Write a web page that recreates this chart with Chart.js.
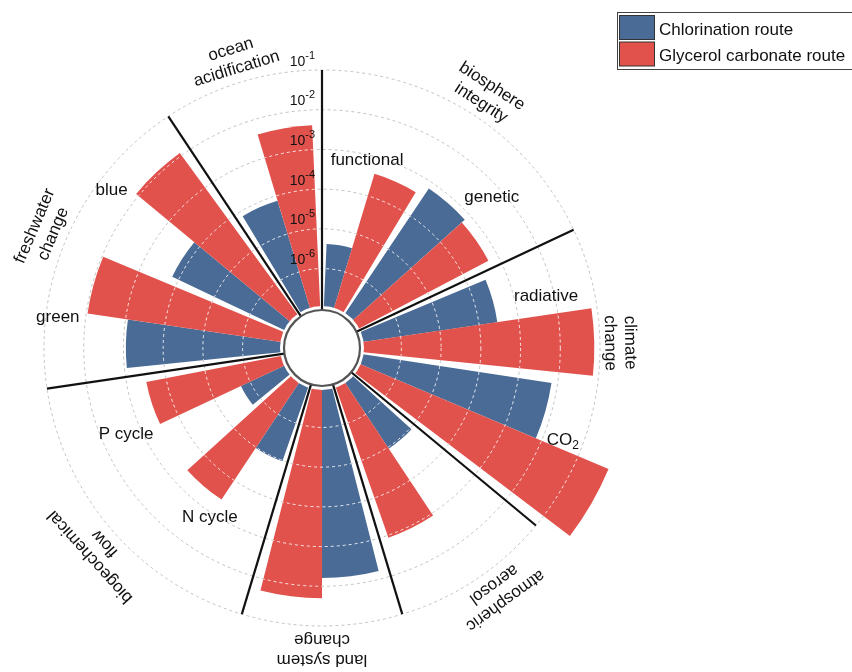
<!DOCTYPE html>
<html>
<head>
<meta charset="utf-8">
<script src="https://cdn.jsdelivr.net/npm/chart.js@4.4.1/dist/chart.umd.min.js"></script>
<style>
  html, body { margin: 0; padding: 0; background: #ffffff; }
  #wrap { width: 852px; height: 672px; position: relative; overflow: hidden; }
</style>
</head>
<body>
<div id="wrap"><canvas id="c" width="852" height="672"></canvas></div>
<script>
// Planetary-boundary impacts of two production routes, radial log scale.

// Boundary categories, clockwise from 12 o'clock (two-line captions)
const categoryNames = [
  ['biosphere', 'integrity'],
  ['climate', 'change'],
  ['atmospheric', 'aerosol'],
  ['land system', 'change'],
  ['biogeochemical', 'flow'],
  ['freshwater', 'change'],
  ['ocean', 'acidification']
];

// Control variables and the category each one belongs to
const subcategories = ['functional', 'genetic', 'radiative', 'CO_2', 'atmospheric aerosol',
  'land system change', 'N cycle', 'P cycle', 'green', 'blue', 'ocean acidification'];
const subcategoryGroup = [0, 0, 1, 1, 2, 3, 4, 4, 5, 5, 6];
// Which control variables get their own caption on the chart
const subcategoryCaptioned = [true, true, true, true, false, false, true, true, true, true, false];

// Impact values per control variable
const seriesNames = ['Chlorination route', 'Glycerol carbonate route'];
const chlorination = [4.2e-6, 6.8e-4, 2.9e-4, 7.0e-3, 1.1e-5, 6.2e-3, 1.05e-5, 1.8e-6, 8.7e-4, 1.5e-4, 7.5e-5];
const glycerolCarbonate = [3.8e-4, 5.4e-4, 7.2e-2, 6.8e-1, 1.15e-3, 2.0e-2, 3.8e-4, 3.2e-4, 9.3e-3, 1.2e-2, 4.1e-3];

// Radial axis: decades shown, and the labelled ones
const axisMinExp = -8;
const axisMaxExp = -1;
const tickExponents = [-1, -2, -3, -4, -5, -6];

// ---------- styling / layout ----------
const FONT = '"Liberation Sans", Arial, Helvetica, sans-serif';
const COLORS = ['#4a6b95', '#e1524c'];
const BAR_DEG = 14.25;   // angular width of one bar
const GAP_IN = 2.8;      // gap between control variables of one category
const GAP_SEP = 5.04;    // gap around a category divider

// caption placement: [angle clockwise from top (deg), radius (px)]
const subCaptionPlace = [[13.5, 193], [48.4, 227], [77, 230], [111, 258], null, null,
  [213.5, 203], [246.3, 214], [276.7, 266], [306.9, 263], null];
const categoryCaptionPlace = [[33, 302], [89, 298], [144, 302], [180, 302], [228, 302], [293, 302], [343, 302]];
const CAPTION_LINE_GAP = 20;

// Build the sequence of slices (bars and spacers) around the circle
const slices = [];
const groupStartIdx = [];
categoryNames.forEach((_, g) => {
  groupStartIdx.push(slices.length);
  slices.push({ kind: 'gap', deg: GAP_SEP / 2 });
  let first = true;
  subcategories.forEach((name, k) => {
    if (subcategoryGroup[k] !== g) return;
    if (!first) slices.push({ kind: 'gap', deg: GAP_IN });
    first = false;
    slices.push({ kind: 'bar', series: 0, value: chlorination[k], deg: BAR_DEG, name });
    slices.push({ kind: 'bar', series: 1, value: glycerolCarbonate[k], deg: BAR_DEG, name });
  });
  slices.push({ kind: 'gap', deg: GAP_SEP / 2 });
});

const chartLabels = slices.map(s => s.kind === 'bar' ? s.name + ' – ' + seriesNames[s.series] : '');
const chartValues = slices.map(s => s.kind === 'bar' ? Math.log10(s.value) : axisMinExp);

// text with sub/superscript pieces: parts = [[text, size, dy], ...]
function richText(ctx, parts, x, y, align) {
  let w = 0;
  parts.forEach(p => { ctx.font = p[1] + 'px ' + FONT; w += ctx.measureText(p[0]).width; });
  let cx = align === 'right' ? x - w : (align === 'center' ? x - w / 2 : x);
  ctx.textAlign = 'left';
  parts.forEach(p => {
    ctx.font = p[1] + 'px ' + FONT;
    ctx.fillText(p[0], cx, y + (p[2] || 0));
    cx += ctx.measureText(p[0]).width;
  });
}

function captionParts(text, size) {
  const i = text.indexOf('_');
  if (i < 0) return [[text, size, 0]];
  return [[text.slice(0, i), size, 0], [text.slice(i + 1), Math.round(size * 0.72), 5]];
}

const decorations = {
  id: 'decorations',
  afterDatasetsDraw(chart) {
    const ctx = chart.ctx;
    const scale = chart.scales.r;
    const meta = chart.getDatasetMeta(0);
    const cx = scale.xCenter, cy = scale.yCenter;
    const ringRadii = scale.ticks
      .map(t => scale.getDistanceFromCenterForValue(t.value))
      .filter(r => r > 1);

    // light dashed rings continued across the bars
    meta.data.forEach((arc, i) => {
      if (slices[i].kind !== 'bar') return;
      const p = arc.getProps(['x', 'y', 'startAngle', 'endAngle', 'outerRadius'], true);
      ctx.save();
      ctx.beginPath();
      ctx.moveTo(p.x, p.y);
      ctx.arc(p.x, p.y, p.outerRadius, p.startAngle, p.endAngle);
      ctx.closePath();
      ctx.clip();
      ctx.strokeStyle = 'rgba(255,255,255,0.85)';
      ctx.lineWidth = 1;
      ctx.setLineDash([3, 3]);
      ringRadii.forEach(r => {
        ctx.beginPath();
        ctx.arc(p.x, p.y, r, 0, Math.PI * 2);
        ctx.stroke();
      });
      ctx.restore();
    });

    // white halo around the hub
    ctx.save();
    ctx.fillStyle = '#ffffff';
    ctx.beginPath();
    ctx.arc(cx, cy, 42, 0, Math.PI * 2);
    ctx.fill();

    // category dividers
    const outerR = scale.getDistanceFromCenterForValue(axisMaxExp);
    ctx.strokeStyle = '#111111';
    ctx.lineWidth = 2.2;
    groupStartIdx.forEach(idx => {
      const a = meta.data[idx].getProps(['startAngle'], true).startAngle;
      ctx.beginPath();
      ctx.moveTo(cx + 38 * Math.cos(a), cy + 38 * Math.sin(a));
      ctx.lineTo(cx + outerR * Math.cos(a), cy + outerR * Math.sin(a));
      ctx.stroke();
    });

    // hub
    ctx.fillStyle = '#ffffff';
    ctx.strokeStyle = '#555555';
    ctx.lineWidth = 2.2;
    ctx.beginPath();
    ctx.arc(cx, cy, 38, 0, Math.PI * 2);
    ctx.fill();
    ctx.stroke();

    ctx.fillStyle = '#111111';
    ctx.textBaseline = 'middle';

    // control variable captions
    subcategories.forEach((name, k) => {
      if (!subcategoryCaptioned[k]) return;
      const [deg, r] = subCaptionPlace[k];
      const a = deg * Math.PI / 180;
      richText(ctx, captionParts(name, 17), cx + r * Math.sin(a), cy - r * Math.cos(a), 'center');
    });

    // category captions, written along the circle
    categoryNames.forEach((lines, g) => {
      const [deg, r] = categoryCaptionPlace[g];
      const a = deg * Math.PI / 180;
      ctx.save();
      ctx.translate(cx + r * Math.sin(a), cy - r * Math.cos(a));
      ctx.rotate(a);
      ctx.font = '17px ' + FONT;
      ctx.textAlign = 'center';
      ctx.fillText(lines[0], 0, -CAPTION_LINE_GAP / 2);
      ctx.fillText(lines[1], 0, CAPTION_LINE_GAP / 2);
      ctx.restore();
    });

    // radial tick labels (powers of ten)
    ctx.textBaseline = 'alphabetic';
    tickExponents.forEach(e => {
      const r = scale.getDistanceFromCenterForValue(e);
      richText(ctx, [['10', 14, 0], [String(e), 11, -7]], cx - 7, cy - r - 4.5, 'right');
    });

    // legend
    ctx.strokeStyle = '#444444';
    ctx.lineWidth = 1;
    ctx.strokeRect(617.5, 12.5, 260, 57);
    seriesNames.forEach((name, s) => {
      const top = 15.5 + s * 26.5;
      ctx.fillStyle = COLORS[s];
      ctx.fillRect(619.5, top, 35, 24);
      ctx.strokeStyle = '#333333';
      ctx.strokeRect(619.5, top, 35, 24);
      ctx.fillStyle = '#111111';
      ctx.font = '17px ' + FONT;
      ctx.textAlign = 'left';
      ctx.fillText(name, 659, top + 19);
    });
    ctx.restore();
  }
};

new Chart(document.getElementById('c'), {
  type: 'polarArea',
  data: {
    labels: chartLabels,
    datasets: [{
      data: chartValues,
      backgroundColor: slices.map(s => s.kind === 'bar' ? COLORS[s.series] : 'rgba(0,0,0,0)'),
      borderWidth: 0,
      angle: slices.map(s => s.deg),
      clip: false
    }]
  },
  options: {
    responsive: false,
    animation: false,
    devicePixelRatio: 1,
    events: [],
    layout: { padding: { left: 44, right: 252, top: 70, bottom: 46 } },
    plugins: { legend: { display: false }, tooltip: { enabled: false } },
    scales: {
      r: {
        min: axisMinExp,
        max: axisMaxExp,
        startAngle: 0,
        ticks: { display: false, stepSize: 1 },
        angleLines: { display: false },
        pointLabels: { display: false },
        grid: { circular: true, color: '#c2c2c2', lineWidth: 1 },
        border: { dash: [3, 3] }
      }
    }
  },
  plugins: [decorations]
});
</script>
</body>
</html>
